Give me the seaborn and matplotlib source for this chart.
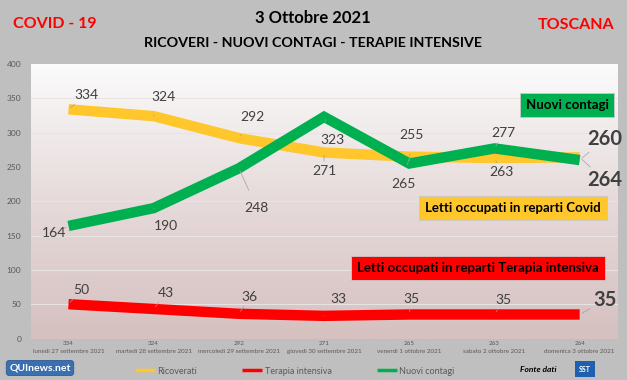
import numpy as np
import pandas as pd
import seaborn as sns
from matplotlib import pyplot as plt
from matplotlib.colors import LinearSegmentedColormap

giorni = ['lunedì 27 settembre 2021', 'martedì 28 settembre 2021',
          'mercoledì 29 settembre 2021', 'giovedì 30 settembre 2021',
          'venerdì 1 ottobre 2021', 'sabato 2 ottobre 2021',
          'domenica 3 ottobre 2021']
ricoverati = [334, 324, 292, 271, 265, 263, 264]
terapia = [50, 43, 36, 33, 35, 35, 35]
contagi = [164, 190, 248, 323, 255, 277, 260]

# label offsets (pixels) relative to each point
off_ric = [(18, 14), (10, 19), (14, 21), (0, -18), (-6, -27), (7, -14)]
off_con = [(-14, -7), (12, -18), (18, -40), (8, -23), (2, 29), (9, 15)]
off_ter = [(13, 14), (12, 16), (11, 17), (14, 17), (2, 15), (9, 14)]

GIALLO = '#FFC72C'
ROSSO = '#FF0000'
VERDE = '#00B050'
GRIGIO = '#404040'

df = pd.DataFrame({'x': range(len(giorni)), 'Ricoverati': ricoverati,
                   'Terapia intensiva': terapia, 'Nuovi contagi': contagi})

sns.set_style('white')
plt.rcParams['font.family'] = ['Lato', 'DejaVu Sans']

fig = plt.figure(figsize=(6.27, 3.8), dpi=100, facecolor='#BFBFBF')
ax = fig.add_axes([31 / 627, 1 - 338.5 / 380, 587 / 627, 274.5 / 380])
ax.patch.set_visible(False)

cmap = LinearSegmentedColormap.from_list('bg', ['#D6C0C0', '#E6DADA', '#FBFBFB'])
grad = np.linspace(0, 1, 256).reshape(-1, 1)
ax.imshow(grad, aspect='auto', cmap=cmap, origin='lower', extent=[0, 1, 0, 1],
          transform=ax.transAxes, zorder=0)

for v in range(50, 400, 50):
    ax.axhline(v, color='#E8E2E2', lw=0.8, zorder=1)

stile = dict(lw=7.5, solid_capstyle='butt', solid_joinstyle='miter')
sns.lineplot(data=df, x='x', y='Ricoverati', color=GIALLO, ax=ax,
             label='Ricoverati', zorder=3, **stile)
sns.lineplot(data=df, x='x', y='Terapia intensiva', color=ROSSO, ax=ax,
             label='Terapia intensiva', zorder=3, **stile)
sns.lineplot(data=df, x='x', y='Nuovi contagi', color=VERDE, ax=ax,
             label='Nuovi contagi', zorder=4, **stile)

ax.set_xlim(-0.44, 6.45)
ax.set_ylim(0, 400)
ax.set_yticks(range(0, 401, 50))
ax.set_xticks(df['x'])
ax.set_xticklabels([f'{r}\n{g}' for r, g in zip(ricoverati, giorni)],
                   fontsize=4.5, color='#595959', linespacing=1.7)
ax.tick_params(axis='y', labelsize=6, colors='#595959', pad=7, length=0)
ax.tick_params(axis='x', length=0, pad=2)
ax.set_xlabel('')
ax.set_ylabel('')
for s in ax.spines.values():
    s.set_visible(False)

px = 0.72
for serie, offs in [(ricoverati, off_ric), (contagi, off_con), (terapia, off_ter)]:
    for i, (dx, dy) in enumerate(offs):
        ax.annotate(str(serie[i]), (i, serie[i]), xytext=(dx * px, dy * px),
                    textcoords='offset points', ha='center', va='center',
                    fontsize=10, color=GRIGIO, zorder=6,
                    arrowprops=dict(arrowstyle='-', color='#A0A0A0', lw=0.5,
                                    shrinkA=7, shrinkB=2))

last = len(giorni) - 1
for serie, dy in [(ricoverati, -23), (contagi, 21), (terapia, 14)]:
    ax.annotate(str(serie[last]), (last, serie[last]), xytext=(25 * px, dy * px),
                textcoords='offset points', ha='center', va='center',
                fontsize=14.5, fontweight='bold', color=GRIGIO, zorder=6,
                arrowprops=dict(arrowstyle='-', color='#A0A0A0', lw=0.5,
                                shrinkA=11, shrinkB=2))


# riquadri descrittivi
def riquadro(x, y, testo, colore):
    fig.text(x, y, testo, ha='center', va='center', fontsize=9.5,
             fontweight='bold', color='black', zorder=10,
             bbox=dict(boxstyle='square,pad=0.45', fc=colore, ec='#C8C8C8',
                       lw=0.6))


riquadro(567 / 627, 1 - 105 / 380, 'Nuovi contagi', VERDE)
riquadro(513 / 627, 1 - 208 / 380, 'Letti occupati in reparti Covid', GIALLO)
riquadro(478 / 627, 1 - 268 / 380,
         'Letti occupati in reparti Terapia intensiva', ROSSO)

# titoli
fig.text(313 / 627, 1 - 18 / 380, '3 Ottobre 2021', ha='center', va='center',
         fontsize=12, fontweight='bold', color='black')
fig.text(313 / 627, 1 - 43 / 380, 'RICOVERI - NUOVI CONTAGI - TERAPIE INTENSIVE',
         ha='center', va='center', fontsize=10.3, fontweight='bold', color='black')
fig.text(55 / 627, 1 - 24 / 380, 'COVID - 19', ha='center', va='center',
         fontsize=11.5, fontweight='bold', color='#FF0000')
fig.text(576 / 627, 1 - 25 / 380, 'TOSCANA', ha='center', va='center',
         fontsize=11.5, fontweight='bold', color='#FF0000')

# legenda
ax.get_legend().remove()
h, l = ax.get_legend_handles_labels()
leg = fig.legend(h, l, loc='center', bbox_to_anchor=(0.47, 1 - 371 / 380),
                 ncol=3, frameon=False, fontsize=6.5, handlelength=2.2,
                 columnspacing=5, handletextpad=0.3)
for t in leg.get_texts():
    t.set_color('#595959')
for ln in leg.get_lines():
    ln.set_linewidth(2.5)
    ln.set_solid_capstyle('butt')

# loghi
fig.text(40 / 627, 1 - 368 / 380, 'QUInews.net', ha='center', va='center',
         fontsize=7.5, fontweight='bold', color='white',
         bbox=dict(boxstyle='round,pad=0.3', fc='#3A6FB0', ec='#2A5590', lw=0.5))
fig.text(538 / 627, 1 - 370 / 380, 'Fonte dati', ha='center', va='center',
         fontsize=6, fontstyle='italic', fontweight='bold', color='black')
fig.text(585 / 627, 1 - 369 / 380, 'SST', ha='center', va='center',
         fontsize=5, fontweight='bold', color='white',
         bbox=dict(boxstyle='square,pad=0.6', fc='#1F5FAF', ec='none'))

fig.savefig('out.png', dpi=100, facecolor=fig.get_facecolor())
plt.close(fig)
